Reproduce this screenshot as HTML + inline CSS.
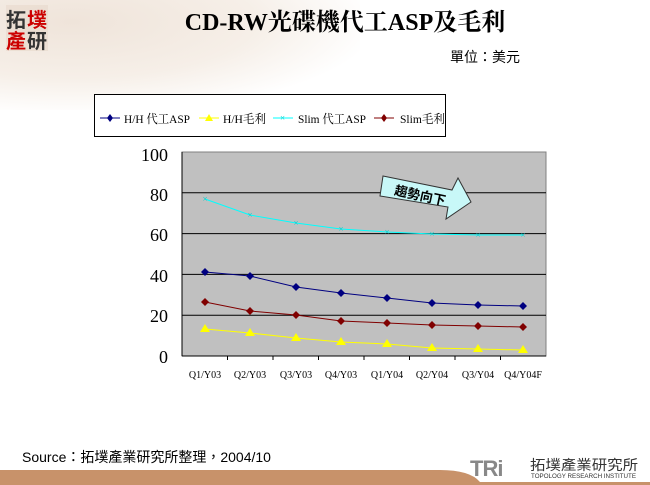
<!DOCTYPE html>
<html><head><meta charset="utf-8"><style>
body{margin:0;width:650px;height:485px;overflow:hidden;background:#fff;position:relative;font-family:"Liberation Serif","Noto Serif CJK SC",serif}
</style></head><body>
<div style="position:absolute;left:0;top:0;width:360px;height:110px;background:radial-gradient(ellipse at 20% 20%,#efe4da 0%,#f6efe8 45%,rgba(255,255,255,0) 75%)"></div>
<svg width="650" height="485" style="position:absolute;left:0;top:0">
<rect x="6" y="5" width="42" height="46" fill="#e8d8cc" opacity="0.6"/>
<text x="6" y="27" font-size="20" font-family="Noto Sans CJK TC,sans-serif" font-weight="bold" fill="#333">拓</text>
<text x="27" y="27" font-size="20" font-family="Noto Sans CJK TC,sans-serif" font-weight="bold" fill="#c00">墣</text>
<text x="6" y="48" font-size="20" font-family="Noto Sans CJK TC,sans-serif" font-weight="bold" fill="#c00">產</text>
<text x="27" y="48" font-size="20" font-family="Noto Sans CJK TC,sans-serif" font-weight="bold" fill="#333">研</text>
<text x="345" y="30" font-size="24" font-weight="bold" text-anchor="middle" font-family="Liberation Serif,Noto Serif CJK SC,serif">CD-RW光碟機代工ASP及毛利</text>
<text x="450" y="62" font-size="14" font-family="Liberation Sans,Noto Sans CJK TC,sans-serif">單位：美元</text>
<rect x="94.5" y="94.5" width="351" height="42" fill="#fff" stroke="#000"/>
<g font-size="12" font-family="Liberation Serif,Noto Serif CJK TC,serif">
<line x1="100" y1="118" x2="120" y2="118" stroke="#000080"/><path d="M110 114l3 4-3 4-3-4z" fill="#000080"/><text x="124" y="123" textLength="66" lengthAdjust="spacingAndGlyphs">H/H 代工ASP</text>
<line x1="199" y1="118" x2="219" y2="118" stroke="#ff0"/><path d="M209 114l4 7h-8z" fill="#ff0"/><text x="223" y="123" textLength="43" lengthAdjust="spacingAndGlyphs">H/H毛利</text>
<line x1="273" y1="118" x2="293" y2="118" stroke="#0ff"/><text x="280" y="121" font-size="9" fill="#0cc">×</text><text x="298" y="123" textLength="68" lengthAdjust="spacingAndGlyphs">Slim 代工ASP</text>
<line x1="374" y1="118" x2="394" y2="118" stroke="#800000"/><path d="M384 114l3 4-3 4-3-4z" fill="#800000"/><text x="400" y="123" textLength="45" lengthAdjust="spacingAndGlyphs">Slim毛利</text>
</g>
<rect x="182" y="152" width="364" height="204" fill="#c0c0c0" stroke="#808080"/>
<g stroke="#000" stroke-width="1">
<line x1="182" y1="192.8" x2="546" y2="192.8"/><line x1="182" y1="233.6" x2="546" y2="233.6"/><line x1="182" y1="274.4" x2="546" y2="274.4"/><line x1="182" y1="315.2" x2="546" y2="315.2"/><line x1="182" y1="356" x2="546" y2="356"/>
<line x1="182" y1="152" x2="182" y2="356"/>
<g stroke-width="1"><line x1="227.5" y1="356" x2="227.5" y2="360"/><line x1="273" y1="356" x2="273" y2="360"/><line x1="318.5" y1="356" x2="318.5" y2="360"/><line x1="364" y1="356" x2="364" y2="360"/><line x1="409.5" y1="356" x2="409.5" y2="360"/><line x1="455" y1="356" x2="455" y2="360"/><line x1="500.5" y1="356" x2="500.5" y2="360"/></g>
</g>
<g font-size="18" text-anchor="end" font-family="Liberation Serif,serif">
<text x="168" y="161">100</text><text x="168" y="201">80</text><text x="168" y="241">60</text><text x="168" y="282">40</text><text x="168" y="322">20</text><text x="168" y="363">0</text>
</g>
<g font-size="10" text-anchor="middle" font-family="Liberation Serif,serif">
<text x="205" y="378">Q1/Y03</text><text x="250" y="378">Q2/Y03</text><text x="296" y="378">Q3/Y03</text><text x="341" y="378">Q4/Y03</text><text x="387" y="378">Q1/Y04</text><text x="432" y="378">Q2/Y04</text><text x="478" y="378">Q3/Y04</text><text x="523" y="378">Q4/Y04F</text>
</g>
<polygon points="383,176 452,190 458,178 471,202 446,219 448,207 380,196" fill="#c8f8f8" stroke="#333"/>
<text x="420" y="200" font-size="13" font-weight="bold" text-anchor="middle" transform="rotate(12 420 196)" font-family="Noto Sans CJK TC,sans-serif">趨勢向下</text>
<polyline fill="none" stroke="#0ff" points="205,199 250,215 296,223 341,229 387,232 432,234 478,235 523,235"/>
<g fill="#0cc" font-size="9" text-anchor="middle"><text x="205" y="202">×</text><text x="250" y="218">×</text><text x="296" y="226">×</text><text x="341" y="232">×</text><text x="387" y="235">×</text><text x="432" y="237">×</text><text x="478" y="238">×</text><text x="523" y="238">×</text></g>
<polyline fill="none" stroke="#000080" points="205,272 250,276 296,287 341,293 387,298 432,303 478,305 523,306"/>
<g fill="#000080"><path d="M205 268l4 4-4 4-4-4z"/><path d="M250 272l4 4-4 4-4-4z"/><path d="M296 283l4 4-4 4-4-4z"/><path d="M341 289l4 4-4 4-4-4z"/><path d="M387 294l4 4-4 4-4-4z"/><path d="M432 299l4 4-4 4-4-4z"/><path d="M478 301l4 4-4 4-4-4z"/><path d="M523 302l4 4-4 4-4-4z"/></g>
<polyline fill="none" stroke="#800000" points="205,302 250,311 296,315 341,321 387,323 432,325 478,326 523,327"/>
<g fill="#800000"><path d="M205 298l4 4-4 4-4-4z"/><path d="M250 307l4 4-4 4-4-4z"/><path d="M296 311l4 4-4 4-4-4z"/><path d="M341 317l4 4-4 4-4-4z"/><path d="M387 319l4 4-4 4-4-4z"/><path d="M432 321l4 4-4 4-4-4z"/><path d="M478 322l4 4-4 4-4-4z"/><path d="M523 323l4 4-4 4-4-4z"/></g>
<polyline fill="none" stroke="#ff0" points="205,329 250,333 296,338 341,342 387,344 432,348 478,349 523,350"/>
<g fill="#ff0"><path d="M205 324l5 8h-10z"/><path d="M250 328l5 8h-10z"/><path d="M296 333l5 8h-10z"/><path d="M341 337l5 8h-10z"/><path d="M387 339l5 8h-10z"/><path d="M432 343l5 8h-10z"/><path d="M478 344l5 8h-10z"/><path d="M523 345l5 8h-10z"/></g>
<text x="22" y="462" font-size="14" font-family="Liberation Sans,Noto Sans CJK TC,sans-serif">Source：拓墣產業研究所整理，2004/10</text>
<path d="M0 470 H440 Q470 470 480 482 H650 V485 H0 Z" fill="#c8926a"/>
<text x="470" y="476" font-size="22" font-weight="bold" fill="#888" font-family="Liberation Sans,sans-serif" letter-spacing="-1">TRi</text>
<text x="530" y="470" font-size="14" fill="#333" font-family="Noto Sans CJK TC,sans-serif" textLength="108" lengthAdjust="spacingAndGlyphs">拓墣產業研究所</text>
<text x="531" y="478" font-size="6" fill="#333" font-family="Liberation Sans,sans-serif" textLength="105" lengthAdjust="spacingAndGlyphs">TOPOLOGY RESEARCH INSTITUTE</text>
</svg>
</body></html>
